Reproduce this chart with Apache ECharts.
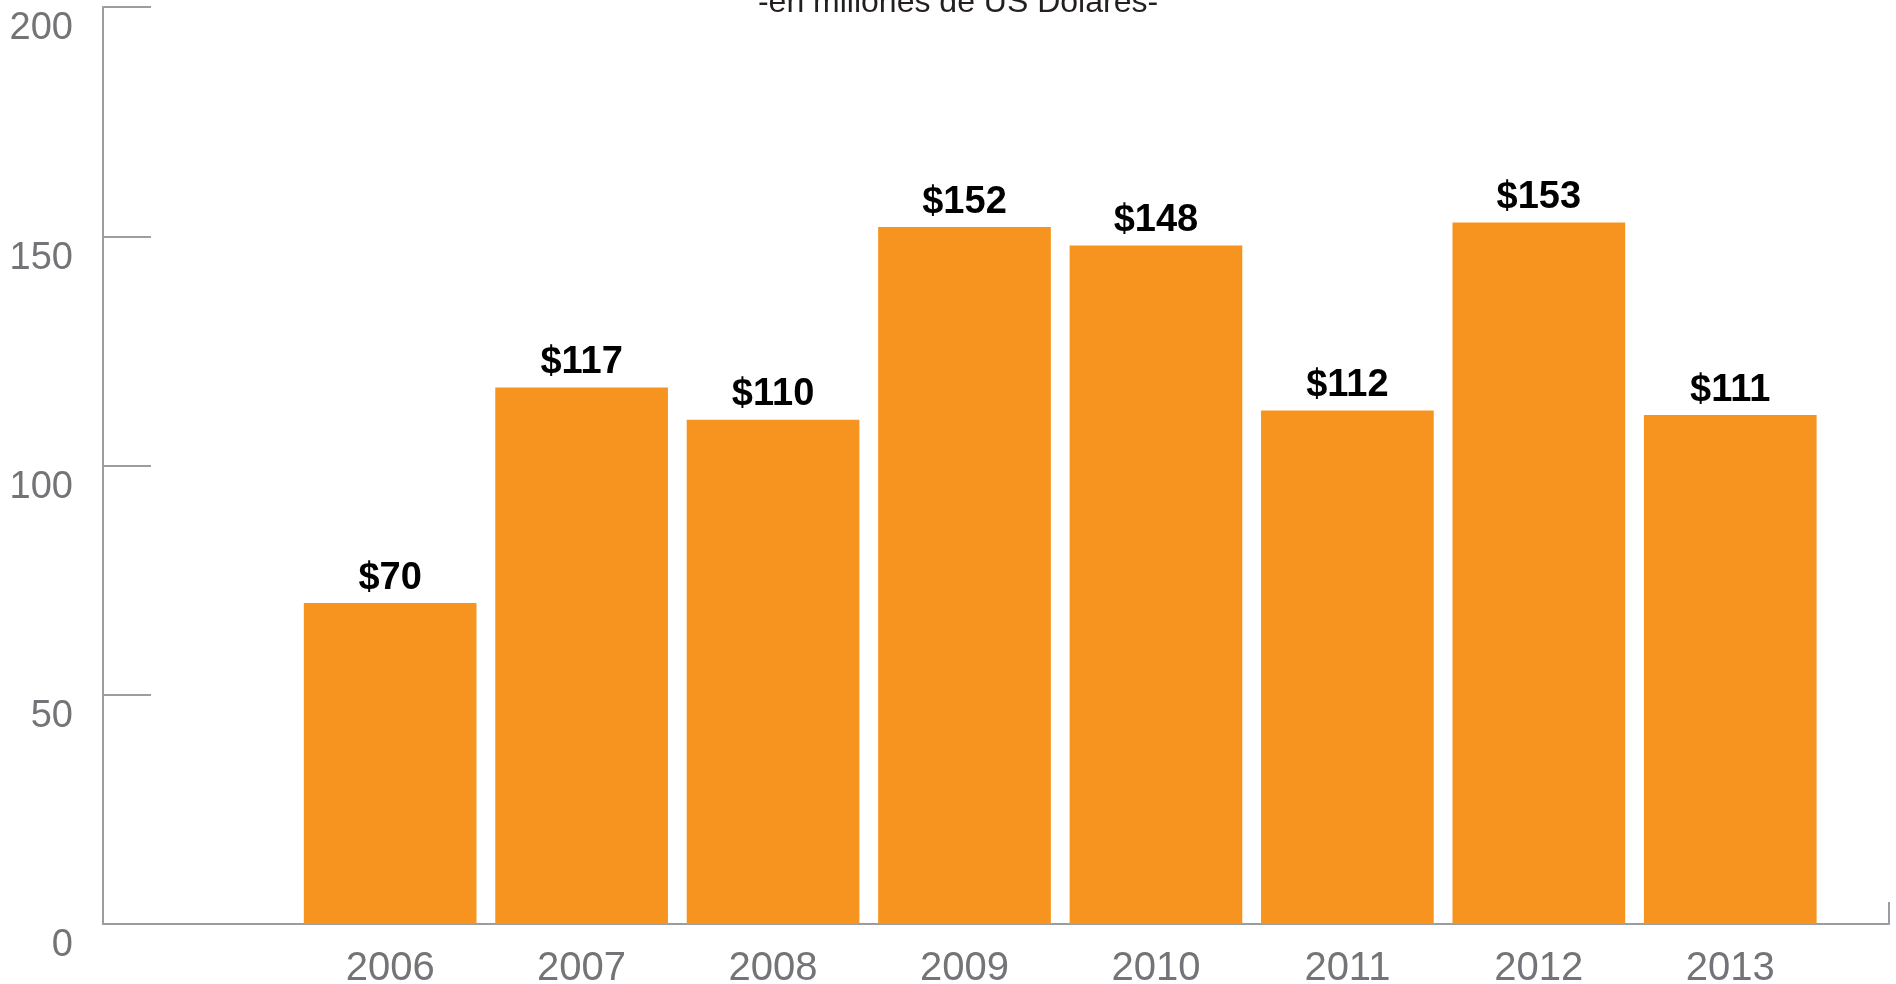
<!DOCTYPE html>
<html>
<head>
<meta charset="utf-8">
<script src="https://cdn.jsdelivr.net/npm/echarts@6/dist/echarts.min.js"></script>
<style>
  html, body { margin: 0; padding: 0; background: #ffffff; }
  #chart { width: 1896px; height: 984px; }
</style>
</head>
<body>
<div id="chart"></div>
<script>
// Annual amounts, millions of US dollars
const years = ['2006', '2007', '2008', '2009', '2010', '2011', '2012', '2013'];
const amounts = [70, 117, 110, 152, 148, 112, 153, 111];
const yTicks = { min: 0, max: 200, interval: 50 };
const subtitle = '-en millones de US Dolares-';

const AXIS_GRAY = '#9c9da1';
const LABEL_GRAY = '#737477';
const BAR_ORANGE = '#f7931f';
const FONT = '"Liberation Sans", Arial, Helvetica, sans-serif';

// one empty leading slot before the first year
const categories = [''].concat(years);
const barData = ['-'].concat(amounts);

const chart = echarts.init(document.getElementById('chart'), null, { renderer: 'canvas' });

chart.setOption({
  animation: false,
  backgroundColor: '#ffffff',
  title: {
    text: subtitle,
    left: 953,
    textAlign: 'center',
    top: -18,
    textStyle: {
      fontFamily: FONT,
      fontSize: 32,
      fontWeight: 'normal',
      color: '#231f20',
      lineHeight: 32
    }
  },
  grid: [
    { left: 103, right: 70, top: 7, bottom: 60, containLabel: false, outerBoundsMode: 'none' },
    { left: 103, right: 7, top: 7, bottom: 60, containLabel: false, outerBoundsMode: 'none' }
  ],
  xAxis: [
    {
      type: 'category',
      gridIndex: 0,
      data: categories,
      axisLine: { show: false },
      axisTick: { show: false },
      axisLabel: {
        color: LABEL_GRAY,
        fontFamily: FONT,
        fontSize: 40,
        margin: 25,
        interval: 0
      }
    },
    {
      // baseline running past the last bar, closed by an upward end tick
      type: 'value',
      gridIndex: 1,
      min: 0,
      max: 1,
      interval: 1,
      axisLine: { show: true, lineStyle: { color: AXIS_GRAY, width: 2 } },
      axisTick: { show: true, inside: true, length: 22, lineStyle: { color: AXIS_GRAY, width: 2 } },
      axisLabel: { show: false },
      splitLine: { show: false }
    }
  ],
  yAxis: [
    {
      type: 'value',
      gridIndex: 0,
      min: yTicks.min,
      max: yTicks.max,
      interval: yTicks.interval,
      axisLine: { show: true, lineStyle: { color: AXIS_GRAY, width: 2 } },
      axisTick: { show: true, inside: true, length: 48, lineStyle: { color: AXIS_GRAY, width: 2 } },
      splitLine: { show: false },
      axisLabel: {
        color: LABEL_GRAY,
        fontFamily: FONT,
        fontSize: 38,
        margin: 30,
        verticalAlign: 'top',
        lineHeight: 44
      }
    },
    {
      type: 'value',
      gridIndex: 1,
      min: 0,
      max: 1,
      show: false
    }
  ],
  series: [
    {
      type: 'bar',
      xAxisIndex: 0,
      yAxisIndex: 0,
      data: barData,
      barCategoryGap: '9.8%',
      itemStyle: { color: BAR_ORANGE },
      label: {
        show: true,
        position: 'top',
        distance: 6,
        formatter: p => '$' + p.value,
        color: '#000000',
        fontFamily: FONT,
        fontWeight: 'bold',
        fontSize: 38
      }
    }
  ]
});
</script>
</body>
</html>
